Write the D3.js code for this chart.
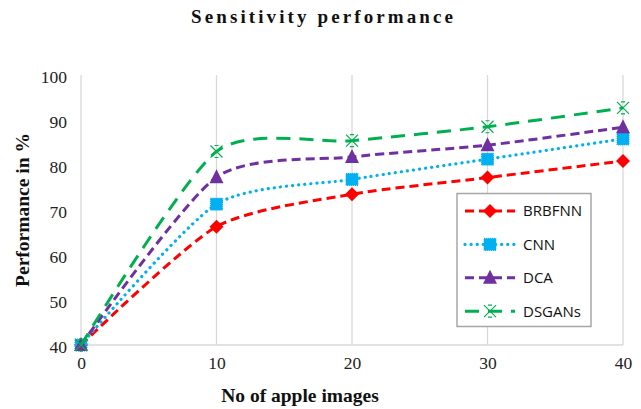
<!DOCTYPE html>
<html>
<head>
<meta charset="utf-8">
<script src="https://cdn.jsdelivr.net/npm/d3@7"></script>
<style>
  body { margin: 0; background: #fff; }
  svg { display: block; }
</style>
</head>
<body>
<div id="chart"></div>
<script>
var images = [0, 10, 20, 30, 40];
var brbfnn = [40, 66.3, 73.5, 77.2, 80.9];
var cnn = [40, 71.3, 76.8, 81.3, 85.8];
var dca = [40, 77.3, 81.8, 84.4, 88.4];
var dsgans = [40, 83, 85.4, 88.5, 92.7];
var yTicks = [40, 50, 60, 70, 80, 90, 100];

var SERIF = "'Liberation Serif', 'Times New Roman', Times, serif";

var series = [
  { name: "BRBFNN", values: brbfnn, color: "#ff0000", dash: "9,5", cap: "butt", width: 3, marker: "diamond" },
  { name: "CNN", values: cnn, color: "#00b0f0", dash: "0.1,6", cap: "round", width: 3.2, marker: "square" },
  { name: "DCA", values: dca, color: "#7030a0", dash: "9,5", cap: "butt", width: 3, marker: "triangle" },
  { name: "DSGANs", values: dsgans, color: "#00b050", dash: "14,9", cap: "butt", width: 3, marker: "cross" }
];

var W = 641, H = 409;
var margin = { top: 75, right: 18, bottom: 64, left: 81 };
var width = W - margin.left - margin.right,
  height = H - margin.top - margin.bottom;

var svg = d3.select("#chart").append("svg").attr("width", W).attr("height", H);

svg.append("text")
  .attr("x", 191).attr("y", 23)
  .attr("textLength", 262)
  .attr("lengthAdjust", "spacing")
  .style("font-family", SERIF)
  .style("font-weight", "bold")
  .style("font-size", "19px")
  .attr("fill", "#111")
  .text("Sensitivity performance");

var g = svg.append("g").attr("transform", "translate(" + margin.left + "," + margin.top + ")");

var x = d3.scaleLinear().domain([0, 40]).range([0, width]);
var y = d3.scaleLinear().domain([40, 100]).range([height, 0]);

// vertical grid
g.append("g").selectAll("line").data(images).enter().append("line")
  .attr("x1", function (d) { return x(d); }).attr("x2", function (d) { return x(d); })
  .attr("y1", 0).attr("y2", height)
  .attr("stroke", "#d9d9d9").attr("stroke-width", 1.3);

g.append("line")
  .attr("x1", 0).attr("x2", width).attr("y1", height).attr("y2", height)
  .attr("stroke", "#d9d9d9").attr("stroke-width", 1.3);

var xAxis = g.append("g").attr("transform", "translate(0," + height + ")")
  .call(d3.axisBottom(x).tickValues(images).tickSize(0).tickPadding(12));
var yAxis = g.append("g")
  .call(d3.axisLeft(y).tickValues(yTicks).tickSize(0).tickPadding(14));
[xAxis, yAxis].forEach(function (a) {
  a.attr("font-family", SERIF).attr("font-size", 17.5);
  a.select(".domain").remove();
  a.selectAll("text")
    .style("font-family", SERIF)
    .style("font-size", "17.5px")
    .attr("fill", "#222");
});
yAxis.selectAll("text").attr("dy", "0.42em");

svg.append("text")
  .attr("x", 300).attr("y", 402)
  .attr("text-anchor", "middle")
  .style("font-family", SERIF)
  .style("font-weight", "bold")
  .style("font-size", "19.5px")
  .attr("fill", "#111")
  .text("No of apple images");

svg.append("text")
  .attr("transform", "translate(29,210) rotate(-90)")
  .attr("text-anchor", "middle")
  .style("font-family", SERIF)
  .style("font-weight", "bold")
  .style("font-size", "19.5px")
  .attr("fill", "#111")
  .text("Performance in %");

var line = d3.line()
  .x(function (d, i) { return x(images[i]); })
  .y(function (d) { return y(d); })
  .curve(d3.curveCardinal.tension(0.3));

function drawMarker(sel, type, color) {
  if (type === "diamond") {
    sel.append("path").attr("d", "M0,-7L7,0L0,7L-7,0Z").attr("fill", color);
  } else if (type === "square") {
    sel.append("rect").attr("x", -6).attr("y", -6).attr("width", 12).attr("height", 12)
      .attr("fill", color).attr("stroke", color).attr("stroke-dasharray", "1,1");
  } else if (type === "triangle") {
    sel.append("path").attr("d", "M0,-8L7,6L-7,6Z").attr("fill", color);
  } else {
    sel.append("path").attr("d", "M-6,-6L6,6M-6,6L6,-6M-2,-6L2,-6M-2,6L2,6")
      .attr("stroke", color).attr("stroke-width", 1.2).attr("fill", "none");
  }
}

series.forEach(function (s) {
  g.append("path").datum(s.values)
    .attr("d", line)
    .attr("fill", "none")
    .attr("stroke", s.color)
    .attr("stroke-width", s.width)
    .attr("stroke-dasharray", s.dash)
    .attr("stroke-linecap", s.cap);
  g.selectAll(null).data(s.values).enter().append("g")
    .attr("transform", function (d, i) { return "translate(" + x(images[i]) + "," + y(d) + ")"; })
    .each(function () { drawMarker(d3.select(this), s.marker, s.color); });
});

// legend
var lg = svg.append("g");
lg.append("rect")
  .attr("x", 457).attr("y", 193.5).attr("width", 134).attr("height", 133)
  .attr("fill", "#fff").attr("stroke", "#a6a6a6").attr("stroke-width", 1.5);
series.forEach(function (s, i) {
  var yy = 211 + i * 33.4;
  lg.append("line")
    .attr("x1", 465).attr("x2", 515).attr("y1", yy).attr("y2", yy)
    .attr("stroke", s.color).attr("stroke-width", s.width)
    .attr("stroke-dasharray", s.dash).attr("stroke-linecap", s.cap);
  var m = lg.append("g").attr("transform", "translate(490," + yy + ")");
  drawMarker(m, s.marker, s.color);
  lg.append("text")
    .attr("x", 523).attr("y", yy).attr("dy", "0.36em")
    .style("font-family", "'Open Sans', sans-serif")
    .style("font-size", "15px")
    .attr("fill", "#111")
    .text(s.name);
});
</script>
</body>
</html>
